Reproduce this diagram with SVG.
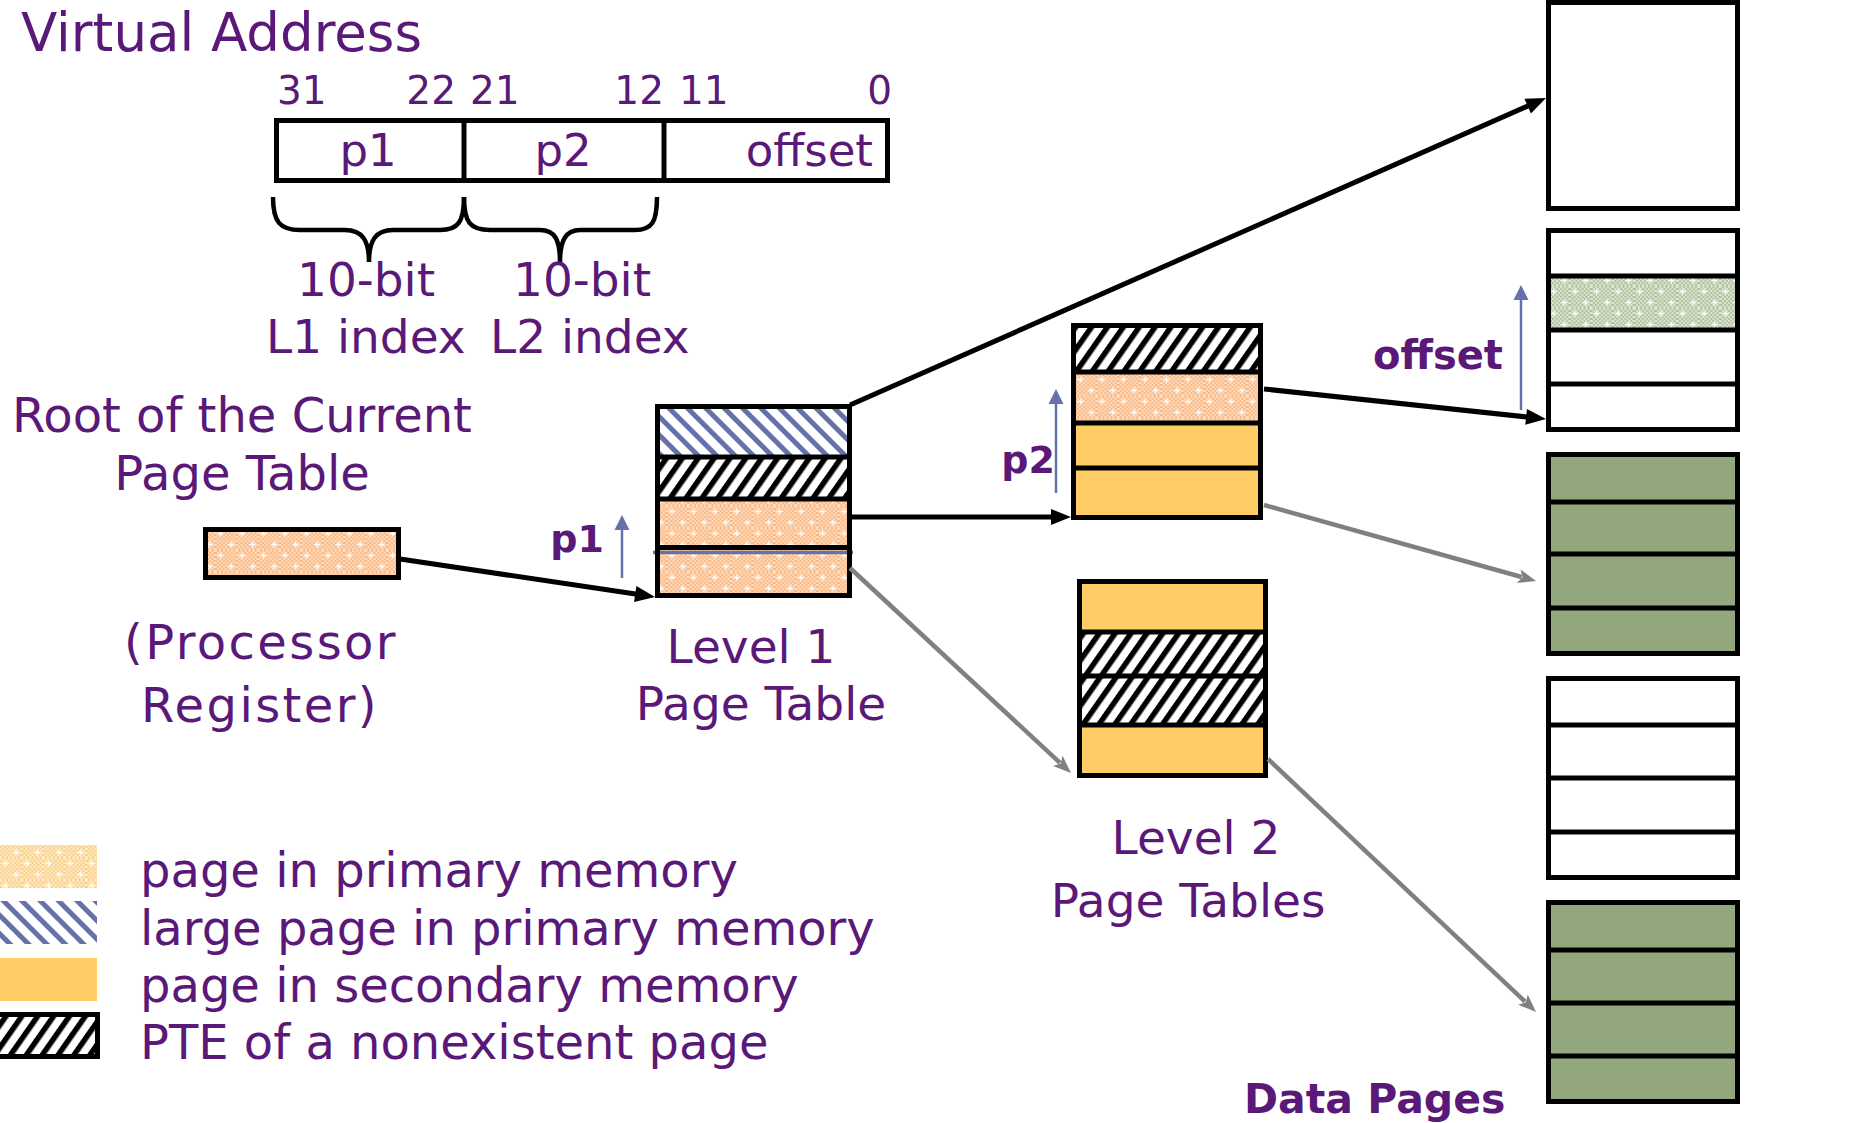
<svg xmlns="http://www.w3.org/2000/svg" width="1860" height="1123" viewBox="0 0 1860 1123">
<style>
.t{font-family:"DejaVu Sans","Liberation Sans",sans-serif;fill:#5A1878}
.b{font-weight:bold}
.bx{fill:none;stroke:#000;stroke-width:5}
.sep{stroke:#000;stroke-width:5}
.arr{stroke:#000;stroke-width:5;fill:none;marker-end:url(#ah)}
.garr{stroke:#808080;stroke-width:4.5;fill:none;marker-end:url(#gh)}
.barr{stroke:#6670AA;stroke-width:2.5;fill:none;marker-end:url(#bh)}
.orange{fill:#FFCC66}
.green{fill:#93A77D}
.white{fill:#fff}
</style>
<defs>
<pattern id="ckO" width="4" height="4" patternUnits="userSpaceOnUse"><rect width="4" height="4" fill="#F9B884"/><rect width="2" height="2" fill="#FFDCBF"/><rect x="2" y="2" width="2" height="2" fill="#FFDCBF"/></pattern>
<pattern id="ckY" width="4" height="4" patternUnits="userSpaceOnUse"><rect width="4" height="4" fill="#FAD08A"/><rect width="2" height="2" fill="#FFEBC6"/><rect x="2" y="2" width="2" height="2" fill="#FFEBC6"/></pattern>
<pattern id="ckG" width="4" height="4" patternUnits="userSpaceOnUse"><rect width="4" height="4" fill="#AFC09D"/><rect width="2" height="2" fill="#DDE6D3"/><rect x="2" y="2" width="2" height="2" fill="#DDE6D3"/></pattern>
<pattern id="dotO" width="21.5" height="22" patternUnits="userSpaceOnUse"><rect width="21.5" height="22" fill="url(#ckO)"/><path d="M2.5,5.5h6M5.5,2.5v6M13.25,16.5h6M16.25,13.5v6" stroke="#fff" stroke-width="1.3"/></pattern>
<pattern id="dotY" width="21.5" height="22" patternUnits="userSpaceOnUse"><rect width="21.5" height="22" fill="url(#ckY)"/><path d="M2.5,5.5h6M5.5,2.5v6M13.25,16.5h6M16.25,13.5v6" stroke="#fff" stroke-width="1.3"/></pattern>
<pattern id="dotG" width="21.5" height="22" patternUnits="userSpaceOnUse"><rect width="21.5" height="22" fill="url(#ckG)"/><path d="M2.5,5.5h6M5.5,2.5v6M13.25,16.5h6M16.25,13.5v6" stroke="#fff" stroke-width="1.3"/></pattern>
<pattern id="hB" width="13" height="13" patternUnits="userSpaceOnUse" patternTransform="rotate(-45)"><rect width="13" height="13" fill="#fff"/><rect width="5" height="13" fill="#6670AA"/></pattern>
<pattern id="hK" width="13" height="13" patternUnits="userSpaceOnUse" patternTransform="rotate(35)"><rect width="13" height="13" fill="#fff"/><rect width="5.5" height="13" fill="#000"/></pattern>
<marker id="ah" markerUnits="userSpaceOnUse" markerWidth="20" markerHeight="16" refX="2" refY="8" orient="auto" overflow="visible"><path d="M0,0L20,8L0,16z" fill="#000"/></marker>
<marker id="gh" markerUnits="userSpaceOnUse" markerWidth="18" markerHeight="14" refX="3" refY="7" orient="auto" overflow="visible"><path d="M0,0L18,7L0,14L4,7z" fill="#808080"/></marker>
<marker id="bh" markerUnits="userSpaceOnUse" markerWidth="15" markerHeight="15" refX="1" refY="7.5" orient="auto" overflow="visible"><path d="M0,0L15,7.5L0,15z" fill="#6670AA"/></marker>
</defs>
<rect width="1860" height="1123" fill="#fff"/>

<g id="title"><text class="t" x="21" y="51" font-size="53">Virtual Address</text></g>

<g id="vaddr">
<g class="t" font-size="39">
<text x="277" y="104">31</text>
<text x="456" y="104" text-anchor="end">22</text>
<text x="470" y="104">21</text>
<text x="664" y="104" text-anchor="end">12</text>
<text x="679" y="104">11</text>
<text x="892" y="104" text-anchor="end">0</text>
</g>
<rect x="276.5" y="120.5" width="611" height="60" class="bx" style="fill:#fff"/>
<line x1="464" y1="120" x2="464" y2="181" class="sep" stroke-width="4"/>
<line x1="664" y1="120" x2="664" y2="181" class="sep" stroke-width="4"/>
<g class="t" font-size="45">
<text x="368" y="166" text-anchor="middle">p1</text>
<text x="563" y="166" text-anchor="middle">p2</text>
<text x="873" y="166" text-anchor="end">offset</text>
</g>
</g>

<g id="braces" fill="none" stroke="#000" stroke-width="4.5">
<path d="M273,197C273,222 280,230 300,230L345,230C362,230 369,240 369,262C369,240 376,230 393,230L440,230C458,230 464,222 464,197"/>
<path d="M464,197C464,222 470,230 490,230L540,230C555,230 560,240 560,262C560,240 566,230 580,230L635,230C652,230 657,222 657,197"/>
</g>
<g id="index-labels" class="t" font-size="47">
<text x="297" y="296">10-bit</text>
<text x="513" y="296">10-bit</text>
<text x="266" y="353">L1 index</text>
<text x="490" y="353">L2 index</text>
</g>

<g id="root-label" class="t" font-size="48" text-anchor="middle">
<text x="242" y="432">Root of the Current</text>
<text x="242" y="490">Page Table</text>
</g>

<g id="reg">
<rect x="205.5" y="529.5" width="193" height="48" class="bx" style="fill:url(#dotO)"/>
</g>
<g id="reg-label" class="t" font-size="48" text-anchor="middle" letter-spacing="2.4">
<text x="261" y="659">(Processor</text>
<text x="260" y="722">Register)</text>
</g>

<g id="l1">
<rect x="657.5" y="406.5" width="192" height="50.5" fill="url(#hB)"/>
<rect x="657.5" y="457" width="192" height="42" fill="url(#hK)"/>
<rect x="657.5" y="499" width="192" height="49" fill="url(#dotO)"/>
<rect x="657.5" y="548" width="192" height="47.5" fill="url(#dotO)"/>
<line x1="657" y1="457" x2="850" y2="457" class="sep"/>
<line x1="657" y1="499" x2="850" y2="499" class="sep"/>
<line x1="657" y1="547.5" x2="850" y2="547.5" class="sep" stroke-width="4.5"/>
<line x1="653" y1="552.5" x2="853" y2="552.5" stroke="#6670AA" stroke-width="3.5"/>
<rect x="657.5" y="406.5" width="192" height="189" class="bx"/>
</g>
<g id="l1-label" class="t" font-size="47" text-anchor="middle">
<text x="751" y="663">Level 1</text>
<text x="761" y="720">Page Table</text>
</g>

<g id="l2a">
<rect x="1073.5" y="325.5" width="187" height="46.5" fill="url(#hK)"/>
<rect x="1073.5" y="372" width="187" height="51" fill="url(#dotO)"/>
<rect x="1073.5" y="423" width="187" height="94.5" class="orange"/>
<line x1="1073" y1="372" x2="1261" y2="372" class="sep"/>
<line x1="1073" y1="423" x2="1261" y2="423" class="sep"/>
<line x1="1073" y1="468" x2="1261" y2="468" class="sep"/>
<rect x="1073.5" y="325.5" width="187" height="192" class="bx"/>
</g>
<g id="l2b">
<rect x="1079.5" y="581.5" width="186" height="50.5" class="orange"/>
<rect x="1079.5" y="632" width="186" height="93" fill="url(#hK)"/>
<rect x="1079.5" y="725" width="186" height="50.5" class="orange"/>
<line x1="1079" y1="632" x2="1266" y2="632" class="sep"/>
<line x1="1079" y1="676" x2="1266" y2="676" class="sep"/>
<line x1="1079" y1="725" x2="1266" y2="725" class="sep"/>
<rect x="1079.5" y="581.5" width="186" height="194" class="bx"/>
</g>
<g id="l2-label" class="t" font-size="47" text-anchor="middle">
<text x="1196" y="854">Level 2</text>
<text x="1188" y="917">Page Tables</text>
</g>

<g id="dp1"><rect x="1548.5" y="2.5" width="189" height="206" class="bx" style="fill:#fff"/></g>
<g id="dp2">
<rect x="1548.5" y="230.5" width="189" height="199" class="white"/>
<rect x="1548.5" y="276" width="189" height="54" fill="url(#dotG)"/>
<line x1="1548" y1="276" x2="1738" y2="276" class="sep"/>
<line x1="1548" y1="330" x2="1738" y2="330" class="sep"/>
<line x1="1548" y1="384" x2="1738" y2="384" class="sep"/>
<rect x="1548.5" y="230.5" width="189" height="199" class="bx"/>
</g>
<g id="dp3">
<rect x="1548.5" y="454.5" width="189" height="199" class="green"/>
<line x1="1548" y1="502" x2="1738" y2="502" class="sep"/>
<line x1="1548" y1="554" x2="1738" y2="554" class="sep"/>
<line x1="1548" y1="608" x2="1738" y2="608" class="sep"/>
<rect x="1548.5" y="454.5" width="189" height="199" class="bx"/>
</g>
<g id="dp4">
<rect x="1548.5" y="678.5" width="189" height="199" class="white"/>
<line x1="1548" y1="725" x2="1738" y2="725" class="sep"/>
<line x1="1548" y1="778" x2="1738" y2="778" class="sep"/>
<line x1="1548" y1="832" x2="1738" y2="832" class="sep"/>
<rect x="1548.5" y="678.5" width="189" height="199" class="bx"/>
</g>
<g id="dp5">
<rect x="1548.5" y="902.5" width="189" height="199" class="green"/>
<line x1="1548" y1="950" x2="1738" y2="950" class="sep"/>
<line x1="1548" y1="1003" x2="1738" y2="1003" class="sep"/>
<line x1="1548" y1="1056" x2="1738" y2="1056" class="sep"/>
<rect x="1548.5" y="902.5" width="189" height="199" class="bx"/>
</g>
<g id="dp-label"><text class="t b" x="1244" y="1113" font-size="41">Data Pages</text></g>

<g id="connectors">
<line x1="400" y1="559" x2="637.2" y2="594.3" class="arr"/>
<line x1="850" y1="405" x2="1529.5" y2="105.3" class="arr"/>
<line x1="852" y1="517" x2="1053" y2="517" class="arr"/>
<line x1="850" y1="568" x2="1060" y2="762.8" class="garr"/>
<line x1="1264" y1="389" x2="1528.1" y2="417.1" class="arr"/>
<line x1="1264" y1="505" x2="1521.6" y2="577" class="garr"/>
<line x1="1268" y1="759" x2="1525.1" y2="1001.7" class="garr"/>
<line x1="622" y1="578" x2="622" y2="529" class="barr"/>
<line x1="1056" y1="493" x2="1056" y2="403" class="barr"/>
<line x1="1521" y1="410" x2="1521" y2="299" class="barr"/>
</g>
<g id="index-marks" class="t b" font-size="38">
<text x="604" y="552" text-anchor="end">p1</text>
<text x="1055" y="473" text-anchor="end">p2</text>
<text x="1373" y="369" font-size="40">offset</text>
</g>

<g id="legend">
<rect x="0" y="845" width="97" height="43" fill="url(#dotY)"/>
<rect x="0" y="901" width="97" height="43" fill="url(#hB)"/>
<rect x="0" y="958" width="97" height="43" class="orange"/>
<rect x="-5" y="1014.5" width="102.5" height="42" class="bx" style="fill:url(#hK)"/>
<g class="t" font-size="48">
<text x="140" y="887">page in primary memory</text>
<text x="140" y="945">large page in primary memory</text>
<text x="140" y="1002">page in secondary memory</text>
<text x="140" y="1059">PTE of a nonexistent page</text>
</g>
</g>
</svg>
